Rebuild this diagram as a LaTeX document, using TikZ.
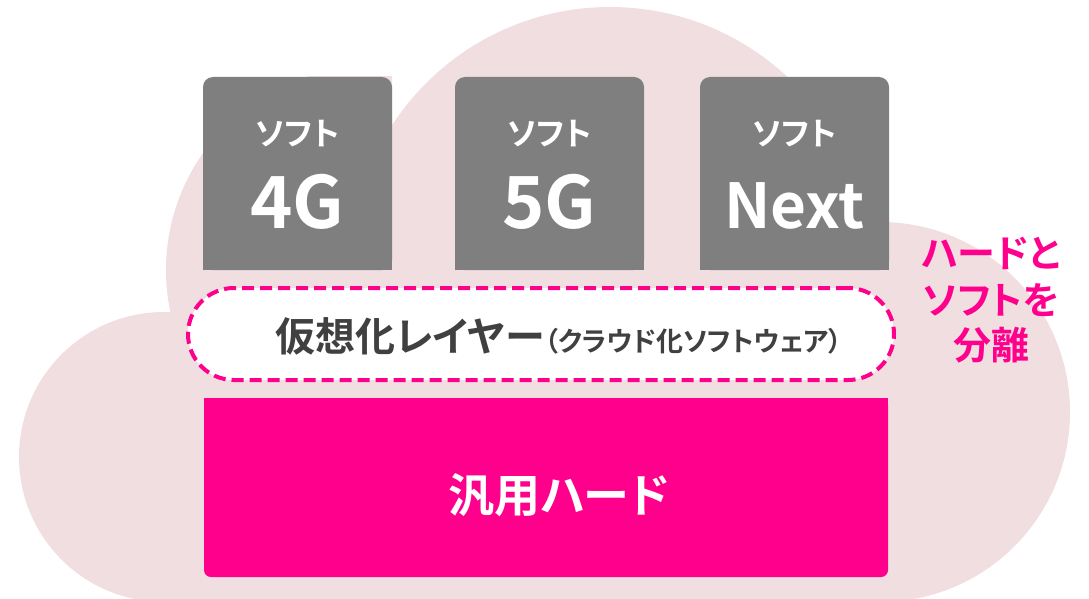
\documentclass[tikz,border=0pt]{standalone}
\usepackage{fontspec}
\setmainfont{Noto Sans CJK JP Bold}[CharacterWidth=AlternateProportional]
\definecolor{cloudpink}{RGB}{241,222,224}
\definecolor{softgray}{RGB}{127,127,127}
\definecolor{hardpink}{RGB}{255,0,140}
\definecolor{textgray}{RGB}{64,64,64}
\begin{document}
\begin{tikzpicture}[x=1pt,y=-1pt,
        softbox/.style={fill=softgray,rounded corners=10pt,minimum width=189pt,minimum height=193pt,inner sep=0pt},
        layerbox/.style={draw=hardpink,fill=white,line width=4pt,dash pattern=on 12pt off 6pt,rounded corners=46pt,minimum width=706pt,minimum height=92pt,inner sep=0pt},
        hardbox/.style={fill=hardpink,rounded corners=7pt,minimum width=684pt,minimum height=179pt,inner sep=0pt},
        label/.style={anchor=base,inner sep=0pt}]
    \useasboundingbox (0,0) rectangle (1089,599);
    \clip (0,0) rectangle (1089,599);
    \fill[cloudpink] (164,457) circle[radius=145pt];
    \fill[cloudpink] (610,267) circle[radius=260pt];
    \fill[cloudpink] (880,412) circle[radius=190pt];
    \fill[cloudpink] (164,400) rectangle (880,620);
    \begin{scope}
        \clip (0,77) rectangle (392,599);
        \fill[cloudpink] (369,270) circle[radius=203pt];
    \end{scope}
    \foreach \x/\n/\t/\s in {297.5/4g/4G/72,549.5/5g/5G/72,794.5/next/Next/62}{
        \node[softbox] (box\n) at (\x,173.5) {};
        \fill[softgray] (box\n.south west) rectangle (box\n.east);
        \node[label,white,font=\fontsize{32}{32}\selectfont] (soft\n) at (\x,146) {ソフト};
        \node[label,white,font=\fontsize{\s}{\s}\selectfont] (gen\n) at (\x,228) {\t};
    }
    \node[layerbox] (layer) at (541,334) {};
    \node[label,textgray] (layertext) at (559,351) {\fontsize{40}{40}\selectfont 仮想化レイヤー\fontsize{27}{27}\selectfont（クラウド化ソフトウェア）};
    \node[hardbox] (hard) at (546,487.5) {};
    \fill[hardpink] (hard.north west) rectangle (hard.east);
    \node[label,white,font=\fontsize{46}{46}\selectfont] (hardtext) at (559,512) {汎用ハード};
    \node[label,hardpink,font=\fontsize{38}{38}\selectfont] (sep1) at (991,267) {ハードと};
    \node[label,hardpink,font=\fontsize{38}{38}\selectfont] (sep2) at (991,314) {ソフトを};
    \node[label,hardpink,font=\fontsize{38}{38}\selectfont] (sep3) at (991,359) {分離};
\end{tikzpicture}
\end{document}
